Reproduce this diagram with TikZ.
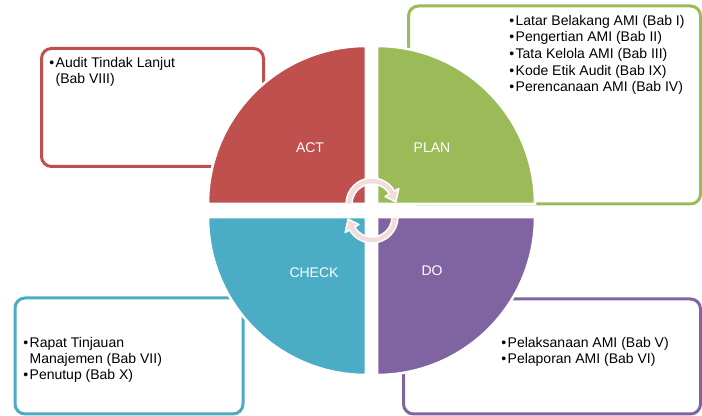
\documentclass[tikz,border=0pt]{standalone}
\usepackage{fontspec}
\setmainfont{Liberation Sans}
\definecolor{actred}{HTML}{C0504D}
\definecolor{plangreen}{HTML}{9BBB59}
\definecolor{checkblue}{HTML}{4BACC6}
\definecolor{dopurple}{HTML}{8064A2}
\definecolor{arrowpink}{HTML}{F2DCDB}
\newcommand{\mybul}{\strut\makebox[4.8pt][l]{\textbullet}}
\newcommand{\myind}{\strut\hspace*{4.8pt}}
\begin{document}
\begin{tikzpicture}[x=0.75pt,y=0.75pt,
  infobox/.style={line width=2.25pt, rounded corners=7.5pt, fill=white},
  quad/.style={draw=white, line width=1.9pt},
  lbl/.style={text=white, font=\fontsize{10.5}{12}\selectfont, inner sep=0},
  itemtext/.style={anchor=north west, align=left, inner sep=0, font=\fontsize{10.5}{12}\selectfont},
  cyc/.style={fill=arrowpink, draw=white, line width=1.1pt, line join=round}]
\useasboundingbox (0,0) rectangle (702,416);

% text boxes
\draw[infobox, draw=actred]     (41.5,367.5) rectangle (263.5,249.5);
\draw[infobox, draw=plangreen]  (408.5,410) rectangle (700.5,212);
\draw[infobox, draw=checkblue]  (15,118) rectangle (243,2);
\draw[infobox, draw=dopurple]   (403.5,117) rectangle (700.5,2);

% quadrants
\fill[fill=actred]    (366,212) -- (208,212) arc[start angle=180, end angle=90, radius=158] -- cycle;
\fill[fill=plangreen] (377,212) -- (377,370) arc[start angle=90, end angle=0, radius=158] -- cycle;
\fill[fill=checkblue] (366,199) -- (208,199) arc[start angle=180, end angle=270, radius=158] -- cycle;
\fill[fill=dopurple]  (377,199) -- (535,199) arc[start angle=0, end angle=-90, radius=158] -- cycle;
\draw[quad] (366,212) -- (208,212) arc[start angle=180, end angle=90, radius=158] -- cycle;
\draw[quad] (377,212) -- (377,370) arc[start angle=90, end angle=0, radius=158] -- cycle;
\draw[quad] (366,199) -- (208,199) arc[start angle=180, end angle=270, radius=158] -- cycle;
\draw[quad] (377,199) -- (535,199) arc[start angle=0, end angle=-90, radius=158] -- cycle;

% quadrant labels
\node[lbl] (act)   at (310,268) {ACT};
\node[lbl] (plan)  at (432,268) {PLAN};
\node[lbl] (check) at (314,143) {CHECK};
\node[lbl] (do)    at (432,145) {DO};

% cycle arrows
\begin{scope}[shift={(372,212)}]
\draw[cyc] (180:26) arc[start angle=180, end angle=30, radius=26] -- (30:31) -- (5:24) -- (30:15)
  -- (30:20) arc[start angle=30, end angle=180, radius=20] -- cycle;
\end{scope}
\begin{scope}[shift={(372,199)}]
\draw[cyc] (0:26) arc[start angle=0, end angle=-150, radius=26] -- (-150:31) -- (-175:24) -- (-150:15)
  -- (-150:20) arc[start angle=-150, end angle=0, radius=20] -- cycle;
\end{scope}

% item texts
\node[itemtext] (acttext) at (49,360.2) {\mybul Audit Tindak Lanjut\\ \myind(Bab VIII)};
\node[itemtext, font=\fontsize{10.5}{12.5}\selectfont] (plantext) at (509,402.7)
  {\mybul Latar Belakang AMI (Bab I)\\ \mybul Pengertian AMI (Bab II)\\ \mybul Tata Kelola AMI (Bab III)\\ \mybul Kode Etik Audit (Bab IX)\\ \mybul Perencanaan AMI (Bab IV)};
\node[itemtext] (checktext) at (23,80.2) {\mybul Rapat Tinjauan\\ \myind Manajemen (Bab VII)\\ \mybul Penutup (Bab X)};
\node[itemtext] (dotext) at (501,80.2) {\mybul Pelaksanaan AMI (Bab V)\\ \mybul Pelaporan AMI (Bab VI)};
\end{tikzpicture}
\end{document}
